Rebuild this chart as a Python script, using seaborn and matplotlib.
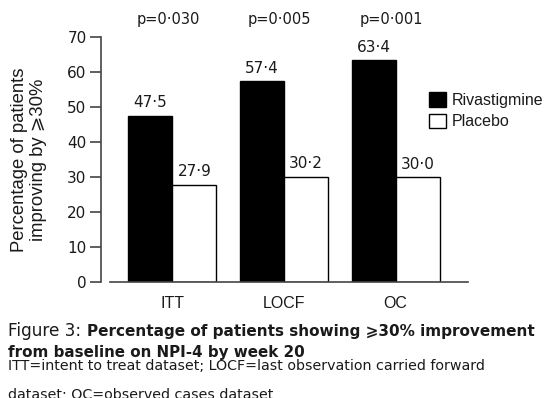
import matplotlib
matplotlib.use('Agg')
import matplotlib.pyplot as plt
import seaborn as sns
import pandas as pd

# ---- data ----
datasets = ['ITT', 'LOCF', 'OC']
groups = ['Rivastigmine', 'Placebo']
rivastigmine = [47.5, 57.4, 63.4]
placebo = [27.9, 30.2, 30.0]
p_values = ['p=0·030', 'p=0·005', 'p=0·001']
y_ticks = [0, 10, 20, 30, 40, 50, 60, 70]
y_label = 'Percentage of patients\nimproving by ⩾30%'
caption_lead = 'Figure 3:'
caption_bold_1 = 'Percentage of patients showing ⩾30% improvement'
caption_bold_2 = 'from baseline on NPI-4 by week 20'
footnote_1 = 'ITT=intent to treat dataset; LOCF=last observation carried forward'
footnote_2 = 'dataset; OC=observed cases dataset'

df = pd.DataFrame({
    'dataset': datasets * 2,
    'group': [groups[0]] * len(datasets) + [groups[1]] * len(datasets),
    'value': rivastigmine + placebo,
})

sns.set_theme(style='white')
plt.rcParams['font.family'] = ['Liberation Sans', 'DejaVu Sans']
TXT = '#1a1a1a'
NUM_FONT = ['DejaVu Sans']

W, H = 545, 398
fig = plt.figure(figsize=(W / 100, H / 100), dpi=100)
ax = fig.add_axes([101 / W, 1 - 282.3 / H, (468.2 - 101) / W, 245 / H])

sns.barplot(data=df, x='dataset', y='value', hue='group', order=datasets,
            hue_order=groups, palette=['black', 'white'], saturation=1,
            edgecolor='black', linewidth=1, width=0.79, errorbar=None, ax=ax)

ax.set_xlim(-0.6386, 2.65)
ax.set_ylim(0, 70)
ax.set_yticks(y_ticks)
ax.set_yticklabels([str(t) for t in y_ticks], family=NUM_FONT, fontsize=11, color=TXT)
ax.set_xticks(range(len(datasets)))
ax.set_xticklabels(datasets, fontsize=11.5, color=TXT)
ax.tick_params(axis='y', length=8, width=1.2, pad=2.4, color='#444444', left=True)
ax.tick_params(axis='x', length=0, pad=10)
for s in ['top', 'right']:
    ax.spines[s].set_visible(False)
ax.spines['left'].set_bounds(0, 70)
ax.spines['bottom'].set_bounds(-0.558, 2.648)
for s in ['left', 'bottom']:
    ax.spines[s].set_color('#444444')
    ax.spines[s].set_linewidth(1.2)
ax.set_xlabel('')
ax.set_ylabel(y_label, fontsize=13.3, color=TXT, va='center', linespacing=1.1)
ax.yaxis.set_label_coords(-(101 - 29) / 367.2, 0.5)

for container, vals in zip(ax.containers, [rivastigmine, placebo]):
    ax.bar_label(container, labels=[f'{v:.1f}'.replace('.', '·') for v in vals],
                 padding=4, fontsize=11, family=NUM_FONT, color=TXT)

for i, p in enumerate(p_values):
    ax.text(i - 0.04, 73.7, p, ha='center', va='baseline', fontsize=10.5,
            family=NUM_FONT, color=TXT, clip_on=False)

handles, labels = ax.get_legend_handles_labels()
ax.legend(handles, labels, loc='upper left',
          bbox_to_anchor=(429.3 / W, 1 - 92.3 / H), bbox_transform=fig.transFigure,
          frameon=False, fontsize=11.5, handlelength=1.03, handleheight=1.0,
          handletextpad=0.35, labelspacing=0.35, borderpad=0, borderaxespad=0,
          labelcolor=TXT)

# ---- caption ----
CAP_FONT = ['DejaVu Sans']


def fit_text(xpx, ypx, s, target_w, fs, **kw):
    t = fig.text(xpx / W, 1 - ypx / H, s, fontsize=fs, va='baseline', ha='left',
                 color=TXT, family=CAP_FONT, **kw)
    fig.canvas.draw()
    w = t.get_window_extent().width
    t.set_fontsize(fs * target_w / w)
    return t


fit_text(8.3, 336, caption_lead, 73.4, 12)
fit_text(87.3, 336, caption_bold_1, 446, 12, fontweight='bold')
fit_text(8.3, 356.7, caption_bold_2, 296.7, 12, fontweight='bold')
t = fit_text(8.3, 370, footnote_1, 479.7, 10)
fig.text(8.3 / W, 1 - 388 / H, footnote_2, fontsize=t.get_fontsize(), va='top',
         ha='left', color=TXT, family=CAP_FONT)

fig.savefig('out.png', dpi=100)
